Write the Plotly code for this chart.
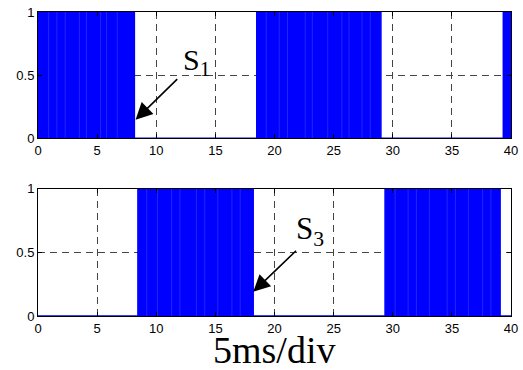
import plotly.graph_objects as go

# switching intervals (ms): on-periods of each gate signal
s1_on_start = [0.0, 18.5, 39.35]
s1_on_end = [8.15, 29.0, 40.0]
s3_on_start = [8.45, 29.35, 39.02]
s3_on_end = [18.2, 38.9, 39.08]

# positions of slightly lighter switching streaks inside the blocks
s1_streaks = [0.9, 1.6, 2.3, 3.5, 4.1, 5.3, 5.8, 6.7, 19.3, 20.4, 21.1, 22.6, 23.2, 24.5, 25.7, 26.3, 27.4, 28.1]
s3_streaks = [9.2, 10.1, 11.3, 12.0, 13.4, 14.1, 15.2, 16.4, 17.1, 30.2, 31.3, 32.0, 33.1, 34.6, 35.3, 36.4, 37.6, 38.3]

x_ticks = [0, 5, 10, 15, 20, 25, 30, 35, 40]
y_ticks = [0, 0.5, 1]

BLUE = "#0000FF"


def step_xy(starts, ends, tmax=40.0):
    xs, ys = [0.0], [0.0]
    for s, e in zip(starts, ends):
        xs += [s, s, e, e]
        ys += [0, 1, 1, 0]
    xs.append(tmax)
    ys.append(0)
    return xs, ys


fig = go.Figure()

for (starts, ends, streaks, xa, ya) in [
    (s1_on_start, s1_on_end, s1_streaks, "x", "y"),
    (s3_on_start, s3_on_end, s3_streaks, "x2", "y2"),
]:
    xs, ys = step_xy(starts, ends)
    fig.add_trace(go.Scatter(x=xs, y=ys, mode="lines", fill="tozeroy",
                             fillcolor=BLUE, line=dict(color=BLUE, width=1.5),
                             xaxis=xa, yaxis=ya, hoverinfo="skip"))
    sx, sy = [], []
    for p in streaks:
        sx += [p, p, None]
        sy += [0, 1, None]
    fig.add_trace(go.Scatter(x=sx, y=sy, mode="lines",
                             line=dict(color="rgba(70,70,255,0.5)", width=1),
                             xaxis=xa, yaxis=ya, hoverinfo="skip"))

tickfont = dict(family="Liberation Sans, Arial, sans-serif", size=13, color="black")
axis_common = dict(showline=True, linecolor="black", linewidth=1, mirror="ticks",
                   ticks="inside", ticklen=4, tickcolor="black", showgrid=True,
                   gridcolor="#444444", griddash="7px,5px", gridwidth=1,
                   zeroline=False, tickfont=tickfont, automargin=False)

fig.update_layout(
    width=523, height=370,
    margin=dict(l=38, r=12, t=12, b=54),
    paper_bgcolor="white", plot_bgcolor="white",
    showlegend=False,
    xaxis=dict(domain=[0, 1], range=[0, 40], tickvals=x_ticks, anchor="y", **axis_common),
    yaxis=dict(domain=[0.585, 1.0], range=[0, 1], tickvals=y_ticks, anchor="x", **axis_common),
    xaxis2=dict(domain=[0, 1], range=[0, 40], tickvals=x_ticks, anchor="y2", **axis_common),
    yaxis2=dict(domain=[0.0, 0.418], range=[0, 1], tickvals=y_ticks, anchor="x2", **axis_common),
)

serif = "Liberation Serif, Times New Roman, serif"

# arrows
fig.add_annotation(x=8.25, y=0.145, ax=11.9, ay=0.48, xref="x", yref="y", axref="x", ayref="y",
                   text="", showarrow=True, arrowhead=2, arrowsize=2.1, arrowwidth=1.6,
                   arrowcolor="black")
fig.add_annotation(x=18.2, y=0.19, ax=21.95, ay=0.525, xref="x2", yref="y2", axref="x2", ayref="y2",
                   text="", showarrow=True, arrowhead=2, arrowsize=2.1, arrowwidth=1.6,
                   arrowcolor="black")

# labels
fig.add_annotation(x=12.1, y=0.6, xref="x", yref="y", text="S<sub>1</sub>", showarrow=False,
                   xanchor="left", yanchor="middle", font=dict(family=serif, size=30, color="black"))
fig.add_annotation(x=21.63, y=0.67, xref="x2", yref="y2", text="S<sub>3</sub>", showarrow=False,
                   xanchor="left", yanchor="middle", font=dict(family=serif, size=31, color="black"))
fig.add_annotation(x=0.498, y=-0.112, xref="paper", yref="paper", text="5ms/div", showarrow=False,
                   xanchor="center", yanchor="middle", font=dict(family=serif, size=38, color="black"))

fig.write_html("out.html", config={"displayModeBar": False},
               post_script="document.body.style.margin='0';document.body.style.overflow='hidden';")
